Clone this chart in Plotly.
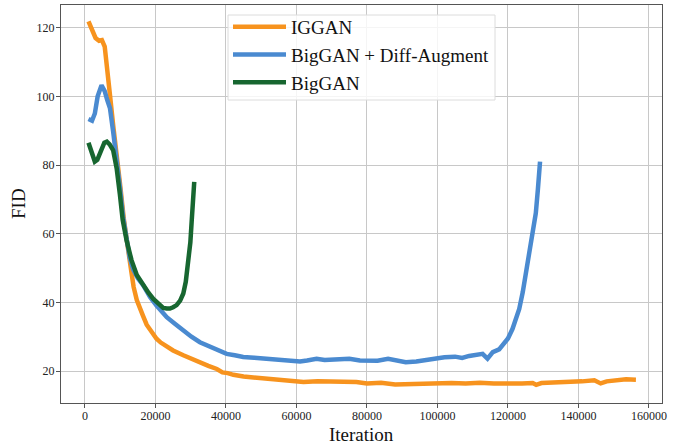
import plotly.graph_objects as go

# ---- data ----
iggan_x = [1000, 2000, 3000, 4000, 4800, 5600, 6300, 7100, 8000, 9000, 10000, 11000,
           11800, 12300, 13000, 13800, 14700, 15500, 16500, 17500, 18500, 19500, 20300,
           21500, 23000, 25000, 27900, 30000, 32600, 35000, 37400, 39000, 40500, 42100,
           45000, 48000, 51500, 55000, 58000, 62000, 66000, 70000, 74000, 77000, 80000,
           84000, 88000, 92000, 96000, 100000, 104000, 108000, 112000, 116000, 120000,
           124000, 127000, 128000, 129500, 133000, 137000, 141000, 144500, 146300,
           148000, 151500, 153500, 156300]
iggan_y = [121.8, 119.5, 117.0, 116.2, 116.4, 114.5, 109.0, 100.3, 91.6, 83.8, 74.0, 64.5,
           57.5, 55.0, 50.0, 44.5, 40.7, 38.3, 36.0, 33.5, 32.0, 30.6, 29.4,
           28.3, 27.3, 26.0, 24.6, 23.6, 22.4, 21.5, 20.6, 19.6, 19.4, 18.9,
           18.4, 18.1, 17.8, 17.4, 16.9, 16.8, 17.0, 16.9, 17.1, 16.8, 16.4,
           16.6, 16.1, 16.2, 16.5, 16.4, 16.5, 16.4, 16.6, 16.4, 16.3,
           16.4, 16.5, 16.0, 16.5, 16.6, 16.8, 17.0, 17.3, 16.4,
           17.0, 17.3, 17.6, 17.5]

diff_x = [1000, 2000, 2800, 3600, 4700, 5600, 6300, 7100, 8000, 8800, 9900, 10800, 11800,
          12700, 13700, 15000, 16500, 18500, 20300, 21800, 23200, 25500, 27900, 30200,
          32600, 35000, 37400, 40200, 42500, 44900, 48000, 51500, 55000, 58000, 61000,
          63000, 65700, 68000, 72000, 75000, 78000, 80700, 83000, 86000, 88000, 91000,
          94000, 97000, 99600, 102000, 105000, 107000, 109000, 112800, 114200, 115700,
          117500, 118500, 120000, 121300, 122300, 123200, 124200, 125100, 126000,
          127000, 127900, 128500, 129100]
diff_y = [93.4, 92.9, 95.0, 100.0, 103.2, 101.5, 99.0, 96.5, 89.7, 83.8, 73.7, 65.0, 57.6,
          53.0, 49.5, 47.0, 45.0, 41.5, 39.1, 37.3, 35.7, 33.8, 31.8, 30.0,
          28.4, 27.3, 26.5, 25.0, 24.6, 24.1, 23.9, 23.6, 23.2, 22.9, 22.8,
          23.1, 23.6, 23.2, 23.4, 23.6, 23.1, 23.2, 23.0, 23.6, 23.2, 22.6,
          22.8, 23.3, 23.8, 24.0, 24.2, 23.8, 24.4, 25.0, 23.6, 25.5,
          26.3, 27.5, 29.5, 32.3, 35.0, 38.1, 43.0, 48.8, 54.5,
          60.5, 66.0, 73.0, 81.0]

biggan_x = [1000, 1800, 2800, 3500, 4500, 5500, 6200, 7000, 8000, 9000, 9900, 10700, 11800,
            13200, 14700, 16500, 18000, 19400, 20800, 22200, 23200, 24100, 25000, 26000,
            27000, 27900, 28600, 29300, 29900, 30300, 30700, 31000]
biggan_y = [86.5, 84.0, 81.0, 81.5, 84.5, 86.5, 86.8, 86.0, 84.3, 79.0, 71.5, 64.0, 58.1,
            52.3, 48.0, 45.0, 42.8, 41.0, 39.5, 38.4, 38.2, 38.2, 38.6, 39.2,
            40.5, 42.6, 46.0, 51.4, 57.5, 64.0, 70.0, 75.1]

series_names = ["IGGAN", "BigGAN + Diff-Augment", "BigGAN"]
series_colors = ["#f7931e", "#4a8ad0", "#176630"]

x_ticks = [0, 20000, 40000, 60000, 80000, 100000, 120000, 140000, 160000]
y_ticks = [20, 40, 60, 80, 100, 120]

FONT = "Liberation Serif, Times New Roman, serif"

fig = go.Figure()
for name, xs, ys, col in zip(series_names,
                             [iggan_x, diff_x, biggan_x],
                             [iggan_y, diff_y, biggan_y],
                             series_colors):
    fig.add_trace(go.Scatter(x=xs, y=ys, mode="lines", name=name,
                             line=dict(color=col, width=4.5)))

axis_common = dict(
    showgrid=True, gridcolor="#c8c8c8", gridwidth=1,
    showline=True, linecolor="#555555", linewidth=1.2, mirror=True,
    ticks="outside", ticklen=4, tickcolor="#555555",
    tickfont=dict(family=FONT, size=12, color="#222222"),
    zeroline=False, automargin=False,
)

# plot area in pixels: x 61..662, y 5..403
def px_x(p):
    return (p - 61) / 601.0

def px_y(p):
    return 1 - (p - 5) / 398.0

fig.update_layout(
    width=676, height=444,
    margin=dict(l=61, r=14, t=5, b=41, autoexpand=False),
    paper_bgcolor="white", plot_bgcolor="white",
    font=dict(family=FONT, color="#111111"),
    xaxis=dict(range=[-6800, 163700], tickvals=x_ticks,
               ticktext=[str(v) for v in x_ticks], ticklabelstandoff=-3,
               **axis_common),
    yaxis=dict(range=[10.7, 126.6], tickvals=y_ticks,
               ticktext=[str(v) for v in y_ticks], ticklabelstandoff=-1,
               **axis_common),
    legend=dict(x=px_x(228), y=px_y(8), xanchor="left", yanchor="top",
                bgcolor="rgba(0,0,0,0)", borderwidth=0,
                font=dict(family=FONT, size=19, color="#111111"),
                tracegroupgap=0, itemwidth=53),
    showlegend=True,
    shapes=[
        dict(type="rect", xref="paper", yref="paper", layer="above",
             x0=px_x(228), x1=px_x(495), y0=px_y(100), y1=px_y(15),
             fillcolor="rgba(255,255,255,0.82)",
             line=dict(color="#dcdcdc", width=1)),
    ],
    annotations=[
        dict(text="Iteration", xref="paper", yref="paper", x=0.5, y=0,
             yshift=-31, xanchor="center", yanchor="middle", showarrow=False,
             font=dict(family=FONT, size=19, color="#111111")),
        dict(text="FID", xref="paper", yref="paper", x=0, y=0.5,
             xshift=-43, xanchor="center", yanchor="middle", showarrow=False,
             textangle=-90, font=dict(family=FONT, size=19, color="#111111")),
    ],
)

fig.write_html("out.html", config={"displayModeBar": False},
               post_script="document.body.style.margin='0';document.body.style.overflow='hidden';")
